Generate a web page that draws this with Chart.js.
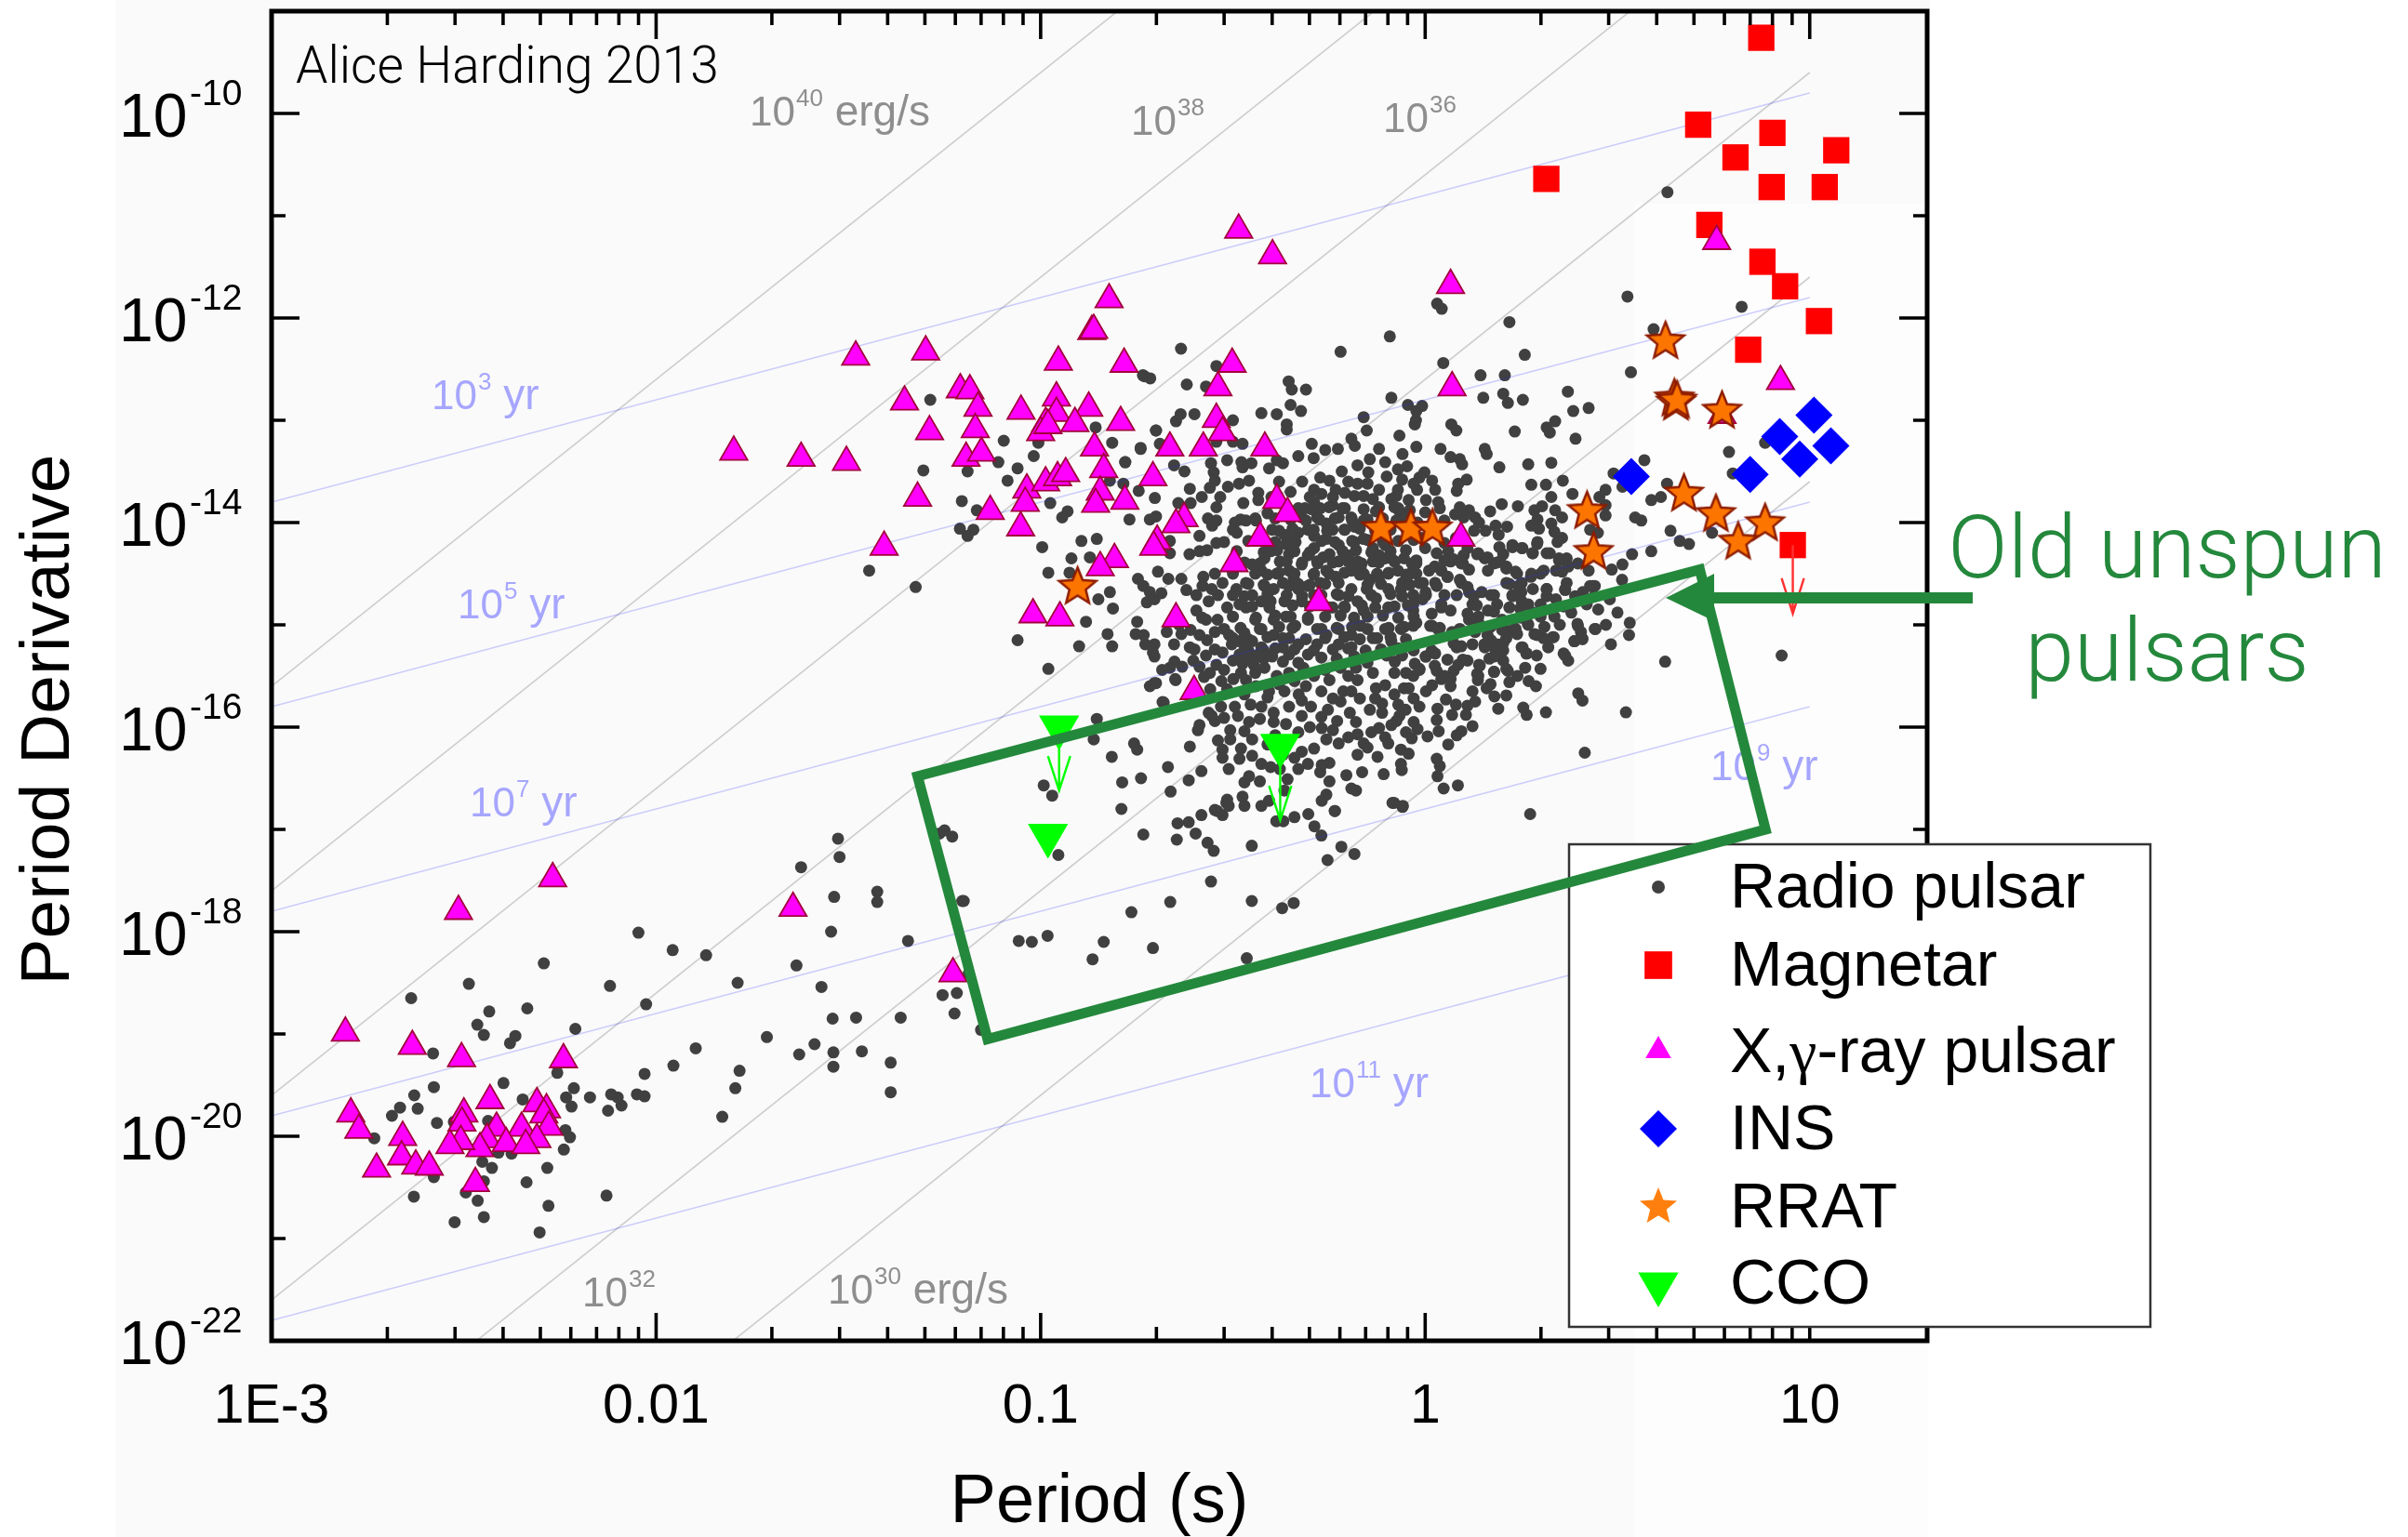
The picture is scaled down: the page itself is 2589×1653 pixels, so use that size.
<!DOCTYPE html>
<html>
<head>
<meta charset="utf-8">
<title>Pulsar P-Pdot</title>
<script src="https://cdn.jsdelivr.net/npm/chart.js@4/dist/chart.umd.js"></script>
<style>
  body { margin: 0; background: #fff; }
  .panel { position: absolute; }
  canvas { position: absolute; left: 0; top: 0; }
</style>
</head>
<body>
<div class="panel" style="left:124px;top:0;width:1951px;height:219px;background:#fafafa"></div>
<div class="panel" style="left:124px;top:219px;width:1633px;height:1434px;background:#fafafa"></div>
<div class="panel" style="left:1757px;top:219px;width:316px;height:1434px;background:#fdfdfd"></div>
<canvas id="chart" width="2589" height="1653"></canvas>
<script>
// all values are log10(P), log10(Pdot)
const radioPulsars = [
  // millisecond pulsars, lower left
  [-2.046,-18.01],[-1.957,-18.18],[-1.87,-18.23],[-2.292,-18.31],[-2.487,-18.51],[-2.12,-18.53],[-2.026,-18.71],[-1.788,-18.5],
  [-2.637,-18.65],[-2.434,-18.78],[-2.335,-18.75],[-2.465,-18.91],[-2.448,-19.01],[-2.366,-19.02],[-2.38,-19.09],[-2.21,-18.95],
  [-2.58,-19.19],[-2.578,-19.52],[-2.629,-19.6],[-2.397,-19.48],[-2.257,-19.38],[-2.214,-19.53],[-2.234,-19.62],[-2.172,-19.62],
  [-2.117,-19.59],[-2.1,-19.62],[-2.05,-19.59],[-2.03,-19.61],[-2.09,-19.7],[-2.125,-19.75],[-2.22,-19.71],[-2.347,-19.64],
  [-2.666,-19.72],[-2.687,-19.8],[-2.62,-19.73],[-2.57,-19.87],[-2.733,-20.02],[-2.236,-19.94],[-2.224,-20.01],[-2.24,-20.13],
  [-2.41,-20.16],[-2.376,-20.17],[-2.452,-20.25],[-2.427,-20.31],[-2.283,-20.31],[-2.337,-20.45],[-2.578,-20.4],[-2.448,-20.44],
  [-2.495,-20.55],[-2.464,-20.63],[-2.63,-20.59],[-2.28,-20.68],[-2.129,-20.58],[-2.448,-20.79],[-2.524,-20.84],[-2.303,-20.94],
  [-2.526,-19.86],[-2.437,-19.85],[-1.955,-19.31],[-2.03,-19.39],[-1.897,-19.14],[-1.783,-19.36],[-1.794,-19.53],[-1.828,-19.81],
  [-1.712,-19.03],[-1.635,-18.33],[-1.57,-18.54],[-1.545,-18.0],[-1.537,-17.66],[-1.425,-17.61],[-1.425,-17.71],[-1.345,-18.09],
  [-1.541,-18.85],[-1.48,-18.84],[-1.364,-18.84],[-1.588,-19.1],[-1.628,-19.2],[-1.539,-19.18],[-1.465,-19.17],[-1.539,-19.32],
  [-1.39,-19.28],[-1.39,-19.57],[-1.255,-18.62],[-1.218,-18.6],[-1.224,-18.8],[-1.2,-17.7],[-1.187,-18.41],[-1.527,-17.09],
  [-1.523,-17.27],[-1.623,-17.37],[-1.263,-17.04],[-1.23,-17.07],[-1.25,-17.01],
  // sparse lower band
  [-1.057,-18.09],[-1.023,-18.1],[-0.982,-18.04],[-0.836,-18.1],[-0.865,-18.27],[-0.708,-18.16],[-0.764,-17.81],[-0.663,-17.71],
  [-0.557,-17.51],[-0.451,-17.7],[-0.372,-17.77],[-0.342,-17.72],[-0.464,-18.26],[-1.204,-17.7],[-1.155,-18.96],[-0.954,-17.25],
  [-0.733,-17.05],[-0.644,-16.94],[-0.615,-16.93],[-0.646,-17.1],[-0.597,-17.04],[-0.582,-16.86],[-0.566,-17.13],[-0.55,-17.21],
  [-0.541,-16.82],[-0.517,-16.74],[-0.451,-17.16],[-0.218,-17.17],[-0.184,-17.24],[-0.254,-17.3],[-0.27,-17.06],[-0.288,-16.97],
  [-0.235,-16.82],[-0.304,-16.85],[-0.34,-16.88],[-0.369,-16.92],[-0.387,-16.92],[0.273,-16.85],[0.415,-16.25],[0.522,-15.855],
  [0.314,-15.855],[-0.081,-16.74],[-0.058,-16.77],[0.085,-16.57],[0.048,-16.6],[-0.683,-15.755],[-0.7,-15.57],[-0.649,-15.54],
  [-0.854,-15.92],[-0.862,-16.12],[-0.757,-16.16],[-0.749,-16.22],[-0.815,-16.29],[-0.612,-16.19],[-0.669,-16.39],[-0.582,-16.43],
  [-0.615,-16.52],[-0.662,-16.63],[-0.739,-16.5],[-0.788,-16.54],[-0.992,-16.57],[-0.97,-16.67],[-0.79,-16.8],
  // left of the main cloud
  [-1.287,-12.8],[-1.096,-13.2],[-1.018,-13.35],[-1.11,-13.41],[-1.06,-13.47],[-1.305,-13.49],[-1.19,-13.5],[-1.086,-13.59],
  [-1.205,-13.79],[-1.166,-13.88],[-1.21,-14.06],[-1.175,-14.07],[-1.19,-14.13],[-0.975,-13.81],[-0.93,-13.89],[-0.944,-13.95],
  [-0.857,-13.07],[-1.006,-13.22],[-0.814,-13.22],[-0.82,-13.59],[-1.446,-14.47],[-1.325,-14.63],[-0.996,-14.24],[-0.894,-14.18],
  [-0.854,-14.16],[-0.92,-14.35],[-0.872,-14.34],[-0.98,-14.49],[-0.925,-14.49],[-0.882,-14.97],[-0.85,-14.75],[-0.82,-14.68],
  [-1.06,-15.15],[-0.9,-15.21],[-0.826,-15.09],[-0.814,-15.21],[-0.98,-15.43],[-0.812,-14.84],[-0.78,-13.41],[-0.74,-13.27],[-0.7,-13.1],
  // top left of the main cloud
  [-0.73,-12.57],[-0.715,-12.59],[-0.62,-12.65],[-0.57,-12.67],[-0.636,-12.94],[-0.648,-13.01],[-0.6,-12.94],[-0.5,-13.0],[-0.7,-13.1],
  [-0.69,-13.23],[-0.74,-13.28],[-0.78,-13.41],[-0.426,-12.93],[-0.386,-12.94],[-0.35,-12.85],[-0.323,-12.91],[-0.36,-13.04],[-0.36,-13.09],
  [-0.355,-12.62],[-0.347,-12.7],[-0.31,-12.7],[-0.088,-12.78],[-0.16,-12.97],[-0.152,-13.1],[-0.192,-13.18],[-0.183,-13.25],[-0.295,-13.23],
  [-0.33,-13.35],[-0.29,-13.37],[-0.26,-13.29],[-0.227,-13.28],[-0.12,-13.28],[-0.543,-13.21],[-0.5,-13.21],[-0.475,-13.23],[-0.557,-13.42],
  [-0.515,-13.39],[-0.478,-13.41],[-0.452,-13.42],[-0.475,-13.46],[-0.406,-13.47],[-0.386,-13.39],[-0.37,-13.42],[-0.653,-13.44],[-0.626,-13.5],
  [-0.55,-13.51],[-0.547,-13.59],[-0.56,-13.66],[-0.513,-13.65],[-0.484,-13.62],[-0.458,-13.59],[-0.612,-13.67],[-0.581,-13.75],[-0.533,-13.75],
  [-0.543,-13.85],[-0.473,-13.81],[-0.434,-13.71],[-0.434,-13.78],[-0.703,-13.76],[-0.745,-13.69],[-0.785,-13.62],[-0.769,-13.97],[-0.716,-13.97],
  [-0.7,-13.94],[-0.642,-13.81],[-0.61,-13.81],[-0.565,-13.96],[-0.543,-13.98],[-0.554,-14.03],[-0.495,-14.0],[-0.466,-13.98],[-0.442,-13.96],
  [-0.41,-13.91],[-0.49,-14.1],[-0.587,-14.13],[-0.398,-14.07],[-0.366,-14.12],[-0.362,-14.21],[-0.664,-14.18],[-0.664,-14.3],[-0.613,-14.31],
  [-0.587,-14.28],[-0.567,-14.27],[-0.543,-14.2],[-0.523,-14.19],[-0.695,-14.48],[-0.668,-14.55],[-0.634,-14.55],[-0.747,-14.55],[-0.733,-14.62],
  [-0.716,-14.68],[-0.686,-14.69],[-0.704,-14.75],[-0.724,-14.78],[-0.621,-14.66],[-0.577,-14.53],[-0.595,-14.71],
  // main cloud, upper half
  [-0.547,-14.5],[-0.579,-14.62],[-0.555,-14.65],[-0.527,-14.59],[-0.563,-14.77],[-0.539,-14.71],[-0.515,-14.83],[-0.595,-14.86],[-0.491,-14.65],
  [-0.466,-14.59],[-0.45,-14.41],[-0.442,-14.5],[-0.418,-14.35],[-0.426,-14.47],[-0.402,-14.28],[-0.378,-14.38],[-0.386,-14.5],[-0.354,-14.47],
  [-0.418,-14.62],[-0.394,-14.65],[-0.45,-14.71],[-0.426,-14.77],[-0.466,-14.83],[-0.366,-14.77],[-0.33,-14.65],[-0.342,-14.54],[-0.321,-14.41],
  [-0.305,-14.32],[-0.281,-14.38],[-0.289,-14.5],[-0.257,-14.47],[-0.233,-14.53],[-0.249,-14.31],[-0.225,-14.22],[-0.257,-14.16],[-0.289,-14.13],
  [-0.321,-13.95],[-0.313,-13.86],[-0.289,-13.8],[-0.289,-13.68],[-0.273,-13.56],[-0.249,-13.59],[-0.233,-13.68],[-0.209,-13.86],[-0.241,-13.83],
  [-0.281,-13.95],[-0.305,-14.07],[-0.33,-14.1],[-0.225,-14.38],[-0.2,-14.32],[-0.176,-14.38],[-0.192,-14.47],[-0.16,-14.5],[-0.136,-14.38],
  [-0.12,-14.32],[-0.104,-14.35],[-0.192,-14.65],[-0.225,-14.71],[-0.209,-14.83],[-0.176,-14.77],[-0.152,-14.65],[-0.12,-14.53],[-0.096,-14.65],
  [-0.128,-14.74],[-0.096,-14.83],[-0.241,-14.83],[-0.16,-14.86],[-0.273,-14.59],[-0.176,-13.62],[-0.16,-13.74],[-0.12,-13.68],[-0.136,-13.77],
  [-0.088,-13.77],[-0.209,-13.71],[-0.184,-13.74],[-0.184,-14.04],[-0.209,-14.07],[-0.241,-14.07],[-0.176,-13.44],[-0.144,-13.38],[-0.104,-13.41],
  [-0.148,-13.51],[-0.217,-13.5],[-0.128,-13.89],[-0.184,-14.19],[-0.273,-13.86],[-0.257,-14.01],[-0.225,-13.95],[-0.192,-13.95],[-0.16,-13.98],
  [-0.104,-14.22],[-0.136,-14.25],[-0.16,-14.16],[-0.354,-14.31],[-0.337,-14.19],[-0.289,-14.25],[-0.265,-14.34],[-0.305,-14.62],[-0.289,-14.71],
  [-0.321,-14.77],[-0.354,-14.62],[-0.402,-14.77],[-0.483,-14.8],[-0.096,-14.5],[-0.088,-14.35],[-0.144,-14.56],[-0.168,-14.44],
  // main cloud, right of one second
  [0.144,-12.56],[0.207,-12.56],[0.151,-12.78],[0.203,-12.74],[0.215,-12.83],[0.254,-12.8],[0.371,-12.72],[0.385,-12.91],[0.425,-12.88],
  [-0.045,-12.85],[-0.008,-12.86],[-0.023,-12.91],[-0.024,-13.0],[-0.027,-13.04],[0.068,-13.04],[0.081,-13.1],[0.233,-13.11],[0.316,-13.07],
  [0.338,-13.01],[0.324,-13.12],[0.391,-13.18],[-0.067,-13.15],[-0.023,-13.26],[0.04,-13.28],[-0.059,-13.33],[0.066,-13.36],[0.09,-13.38],
  [0.096,-13.43],[0.155,-13.28],[0.16,-13.33],[0.193,-13.46],[0.268,-13.43],[0.328,-13.415],[0.57,-13.39],[0.49,-13.52],[-0.047,-13.45],
  [-0.071,-13.48],[-0.002,-13.51],[-0.015,-13.56],[0.018,-13.59],[0.026,-13.68],[-0.021,-13.68],[-0.071,-13.68],[-0.075,-13.74],[-0.043,-13.78],
  [0.002,-13.78],[0.034,-13.8],[0.108,-13.58],[0.086,-13.62],[0.082,-13.69],[0.276,-13.63],[0.314,-13.63],[0.358,-13.59],[0.383,-13.72],
  [0.328,-13.75],[0.469,-13.68],[0.453,-13.75],[0.513,-13.65],[0.588,-13.78],[0.613,-13.75],[0.629,-13.62],[0.199,-13.82],[0.241,-13.84],
  [0.169,-13.89],[0.09,-13.85],[0.114,-13.88],[0.078,-13.92],[0.038,-13.86],[0.05,-13.98],[-0.067,-13.89],[-0.075,-13.98],[0.304,-13.84],
  [0.284,-13.88],[0.292,-13.97],[0.338,-13.88],[0.276,-14.03],[0.296,-14.06],[0.356,-13.95],[0.328,-14.01],[0.336,-14.09],[0.356,-14.15],
  [0.344,-14.19],[0.469,-13.83],[0.469,-13.93],[0.449,-14.1],[0.429,-14.07],[0.546,-13.95],[0.562,-13.98],[0.638,-14.08],[0.127,-14.08],
  [0.157,-14.08],[0.183,-14.03],[0.213,-14.04],[0.191,-14.12],[0.193,-14.24],[0.227,-14.22],[0.253,-14.25],[0.292,-14.19],[0.28,-14.3],
  [0.316,-14.3],[0.348,-14.35],[0.368,-14.35],[0.397,-14.4],[0.425,-14.47],[0.485,-14.46],[0.513,-14.41],[0.538,-14.31],[0.588,-14.28],
  [0.512,-14.56],[0.441,-14.62],[0.429,-14.62],[0.135,-14.31],[0.155,-14.35],[0.179,-14.4],[0.195,-14.38],[0.163,-14.47],[0.211,-14.45],
  [0.239,-14.5],[0.211,-14.59],[0.243,-14.62],[0.276,-14.5],[0.308,-14.47],[0.34,-14.47],[0.368,-14.59],[0.364,-14.66],[0.316,-14.65],
  [0.316,-14.72],[0.066,-14.38],[0.098,-14.4],[0.042,-14.47],[0.01,-14.47],[-0.023,-14.4],[-0.055,-14.35],[-0.079,-14.38],[-0.071,-14.47],
  [-0.039,-14.5],[-0.006,-14.59],[0.026,-14.59],[0.058,-14.53],[0.094,-14.59],[0.114,-14.68],[0.002,-14.71],[-0.031,-14.71],[-0.063,-14.65],
  [0.05,-14.71],[0.082,-14.71],[0.147,-14.68],[0.179,-14.71],[0.227,-14.71],[0.268,-14.8],[0.123,-14.8],[0.042,-14.83],[-0.031,-14.86],[0.163,-14.86],
  // main cloud, below the green line, right side
  [0.268,-15.0],[0.397,-15.01],[0.405,-15.07],[0.443,-15.04],[0.532,-14.98],[0.284,-15.09],[0.308,-15.13],[0.334,-15.12],[0.388,-15.16],[0.409,-15.14],
  [0.483,-15.19],[0.253,-15.22],[0.264,-15.28],[0.36,-15.28],[0.372,-15.35],[0.624,-15.36],[0.239,-15.09],[0.219,-15.06],[0.203,-15.18],[0.179,-15.22],
  [0.167,-15.33],[0.203,-15.35],[0.215,-15.45],[0.219,-15.56],[0.179,-15.46],[0.269,-15.55],[0.288,-15.6],[0.211,-15.69],[0.398,-15.67],[0.409,-15.74],
  [0.255,-15.81],[0.264,-15.88],[0.14,-15.39],[0.135,-15.48],[0.137,-15.54],[0.123,-15.65],[0.13,-15.75],[0.11,-15.79],[0.106,-15.88],[0.123,-15.99],
  [0.094,-16.04],[0.082,-16.08],[0.06,-16.17],[0.035,-16.04],[0.006,-16.09],[-0.035,-16.11],[-0.063,-16.22],[-0.043,-16.26],[0.03,-16.31],[0.038,-16.38],
  [0.032,-16.48],[-0.063,-16.36],[-0.061,-16.42],[-0.059,-16.78],[-0.051,-15.83],[-0.015,-15.8],[0.032,-15.82],[0.054,-15.73],[-0.075,-15.94],[-0.067,-15.89],
  [-0.055,-15.62],[-0.043,-15.62],[-0.031,-15.5],[0.002,-15.65],[0.018,-15.59],[0.03,-15.45],[0.066,-15.6],[0.042,-15.53],[0.066,-15.53],[-0.027,-15.38],
  [-0.015,-15.44],[0.002,-15.31],[0.026,-15.28],[0.086,-15.39],[0.074,-15.45],[0.11,-15.35],[-0.063,-15.04],[-0.031,-15.01],[-0.079,-15.36],[0.018,-15.01],
  [0.038,-15.03],[0.114,-14.95],[0.139,-14.98],[0.094,-15.21],[0.074,-15.18],[0.123,-15.19],[0.155,-15.22],[0.171,-15.15],[0.187,-15.27],
  // main cloud, below the green line, left side
  [-0.749,-14.97],[-0.753,-15.09],[-0.732,-15.1],[-0.728,-15.19],[-0.704,-15.19],[-0.708,-15.27],[-0.704,-15.31],[-0.672,-15.07],[-0.634,-15.09],[-0.653,-15.19],
  [-0.612,-15.22],[-0.6,-15.24],[-0.652,-15.36],[-0.684,-15.44],[-0.664,-15.42],[-0.632,-15.41],[-0.603,-15.35],[-0.587,-15.41],[-0.575,-15.51],[-0.704,-15.57],
  [-0.716,-15.6],[-0.65,-15.53],[-0.559,-15.63],[-0.68,-15.76],[-0.587,-15.1],[-0.567,-15.15],[-0.547,-15.07],[-0.523,-15.04],[-0.503,-15.19],[-0.483,-15.16],
  [-0.547,-15.24],[-0.527,-15.27],[-0.543,-15.39],[-0.523,-15.44],[-0.483,-15.29],[-0.475,-15.38],[-0.479,-15.47],[-0.499,-15.53],[-0.466,-15.54],[-0.446,-15.39],
  [-0.442,-15.47],[-0.418,-15.42],[-0.398,-15.31],[-0.515,-15.63],[-0.531,-15.8],[-0.563,-15.86],[-0.547,-15.94],[-0.555,-15.89],[-0.523,-15.91],[-0.495,-15.8],
  [-0.487,-15.89],[-0.454,-15.78],[-0.458,-15.95],[-0.47,-16.04],[-0.45,-16.12],[-0.587,-15.98],[-0.591,-16.03],[-0.539,-16.13],[-0.527,-16.22],[-0.527,-16.3],
  [-0.507,-16.03],[-0.507,-16.12],[-0.479,-16.21],[-0.483,-16.31],[-0.511,-16.41],[-0.45,-16.28],[-0.426,-16.36],[-0.402,-16.39],[-0.378,-16.41],[-0.33,-16.41],
  [-0.305,-16.36],[-0.321,-16.24],[-0.289,-16.21],[-0.269,-16.01],[-0.257,-16.12],[-0.273,-16.44],[-0.249,-16.35],[-0.225,-16.16],[-0.249,-16.53],[-0.205,-16.47],
  [-0.164,-16.44],[-0.108,-16.46],[-0.394,-15.95],[-0.362,-15.97],[-0.321,-15.89],[-0.329,-15.68],[-0.321,-15.74],[-0.297,-15.8],[-0.354,-15.8],[-0.394,-15.86],
  [-0.426,-15.8],[-0.41,-15.71],[-0.366,-15.65],[-0.406,-15.65],[-0.253,-15.83],[-0.229,-15.94],[-0.196,-15.86],[-0.18,-15.95],[-0.144,-15.83],[-0.112,-15.77],
  [-0.112,-15.86],[-0.088,-15.98],[-0.176,-16.07],[-0.16,-16.16],[-0.176,-16.27],[-0.12,-16.01],[-0.104,-16.1],[-0.096,-16.16],[-0.124,-16.29],[-0.269,-16.37],
  [-0.458,-16.48],[-0.47,-16.54],[-0.43,-16.53],[-0.358,-16.51],[-0.475,-16.68],[-0.47,-16.77],[-0.515,-16.71],[-0.511,-16.77],[-0.547,-16.81],[-0.527,-16.86],
  [-0.426,-16.77],[-0.406,-16.72],[-0.366,-16.62],[-0.257,-16.66],[-0.269,-16.72],[-0.235,-16.82],[-0.192,-16.6],[-0.18,-16.62],[-0.085,-16.74],[-0.442,-14.95],
  [-0.426,-15.04],[-0.394,-14.95],[-0.362,-14.92],[-0.338,-15.01],[-0.354,-15.13],[-0.33,-15.19],[-0.305,-14.95],[-0.281,-15.04],[-0.257,-15.1],[-0.225,-15.04],
  [-0.192,-15.1],[-0.168,-15.01],[-0.136,-15.13],[-0.104,-15.04],[-0.088,-15.16],[-0.192,-15.22],[-0.225,-15.19],[-0.281,-15.19],[-0.305,-15.29],[-0.354,-15.29],
  [-0.37,-15.22],[-0.394,-15.1],[-0.45,-15.16],[-0.426,-15.22],[-0.184,-15.31],[-0.289,-15.5],[-0.249,-15.54],[-0.2,-15.5],[-0.176,-15.54],[-0.213,-15.65],
  [-0.192,-15.65],[-0.136,-15.47],[-0.128,-15.62],[-0.104,-15.59],[-0.317,-15.42],[-0.354,-15.47],[-0.386,-15.5],
  // far right and upper sparse points
  [0.63,-10.77],[0.526,-11.79],[0.823,-11.89],[0.594,-12.11],[0.535,-12.53],[0.79,-13.31],[0.884,-13.22],[0.8,-13.52],[0.662,-14.18],[0.686,-14.21],[0.746,-14.1],
  [0.927,-15.3],[-0.635,-12.3],[-0.22,-12.33],[-0.092,-12.18],[0.219,-12.04],[0.259,-12.36],[0.031,-11.86],[0.043,-11.91],[0.047,-12.44],[-0.543,-12.47],[-0.734,-12.56]
];

// the crowded middle of the cloud, read row by row between the white gaps
const radioCore = [
  [-0.33,-13.86],[-0.295,-13.87],[-0.25,-13.85],[-0.215,-13.86],[-0.16,-13.87],[-0.12,-13.85],[-0.07,-13.86],[-0.04,-13.88],
  [-0.48,-13.97],[-0.44,-13.98],[-0.39,-13.96],[-0.35,-13.97],[-0.31,-13.98],[-0.275,-13.97],[-0.235,-13.96],[-0.19,-13.98],[-0.15,-13.97],[-0.11,-13.96],[-0.055,-13.97],
  [-0.5,-14.07],[-0.38,-14.08],[-0.345,-14.06],[-0.29,-14.07],[-0.255,-14.08],[-0.21,-14.07],[-0.17,-14.06],[-0.13,-14.08],[-0.09,-14.07],[-0.05,-14.06],
  [-0.46,-14.18],[-0.39,-14.19],[-0.35,-14.17],[-0.27,-14.18],[-0.235,-14.19],[-0.19,-14.18],[-0.15,-14.17],[-0.11,-14.19],[-0.07,-14.18],[-0.03,-14.17],
  [-0.49,-14.28],[-0.42,-14.29],[-0.385,-14.27],[-0.34,-14.28],[-0.3,-14.29],[-0.215,-14.28],[-0.18,-14.27],[-0.14,-14.29],[-0.09,-14.28],[-0.05,-14.27],
  [-0.47,-14.39],[-0.43,-14.4],[-0.36,-14.38],[-0.32,-14.39],[-0.28,-14.4],[-0.24,-14.39],[-0.2,-14.38],[-0.165,-14.4],[-0.12,-14.39],[-0.08,-14.38],[-0.035,-14.4],
  [-0.5,-14.5],[-0.41,-14.51],[-0.38,-14.49],[-0.34,-14.5],[-0.29,-14.51],[-0.25,-14.5],[-0.21,-14.49],[-0.17,-14.51],[-0.125,-14.5],[-0.095,-14.49],[-0.05,-14.51],
  [-0.46,-14.6],[-0.42,-14.61],[-0.37,-14.59],[-0.33,-14.6],[-0.3,-14.61],[-0.26,-14.6],[-0.225,-14.59],[-0.15,-14.61],[-0.115,-14.6],[-0.06,-14.59],[-0.04,-14.61],
  [-0.5,-14.71],[-0.47,-14.72],[-0.41,-14.7],[-0.36,-14.71],[-0.32,-14.72],[-0.27,-14.71],[-0.23,-14.7],[-0.2,-14.72],[-0.14,-14.71],[-0.09,-14.7],[-0.06,-14.72],
  [-0.45,-14.82],[-0.405,-14.83],[-0.345,-14.81],[-0.3,-14.82],[-0.25,-14.83],[-0.21,-14.82],[-0.165,-14.81],[-0.13,-14.83],[-0.08,-14.82],[-0.045,-14.81],
  [-0.5,-14.92],[-0.44,-14.93],[-0.39,-14.91],[-0.35,-14.92],[-0.305,-14.93],[-0.26,-14.92],[-0.22,-14.91],[-0.185,-14.93],[-0.15,-14.92],[-0.11,-14.91],[-0.07,-14.93],[-0.03,-14.92],
  [-0.48,-15.03],[-0.43,-15.04],[-0.38,-15.02],[-0.345,-15.03],[-0.27,-15.04],[-0.23,-15.03],[-0.19,-15.02],[-0.15,-15.04],[-0.095,-15.03],[-0.055,-15.02],
  [-0.5,-15.13],[-0.46,-15.14],[-0.41,-15.12],[-0.37,-15.13],[-0.31,-15.14],[-0.26,-15.13],[-0.21,-15.12],[-0.17,-15.14],[-0.125,-15.13],[-0.09,-15.12],[-0.05,-15.14],
  [-0.47,-15.24],[-0.42,-15.25],[-0.39,-15.23],[-0.34,-15.24],[-0.29,-15.25],[-0.24,-15.24],[-0.2,-15.23],[-0.155,-15.25],[-0.115,-15.24],[-0.07,-15.23],[-0.03,-15.25],
  [-0.46,-15.33],[-0.42,-15.33],[-0.37,-15.36],[-0.33,-15.37],[-0.27,-15.32],[-0.23,-15.33],[-0.18,-15.42],[-0.15,-15.37],[-0.1,-15.3],[-0.06,-15.3],[-0.08,-15.47],[-0.05,-15.47],[-0.26,-15.44],[-0.22,-15.42],
  [-0.02,-14.0],[0.02,-14.05],[0.05,-14.2],[0.08,-14.15],[0.11,-14.25],[0.0,-14.25],[0.03,-14.3],[-0.01,-14.15],[0.06,-14.28],[0.1,-14.32],
  [0.138,-14.3],[0.162,-14.34],[0.187,-14.39],[0.211,-14.43],[0.235,-14.48],[0.203,-14.31],[0.227,-14.24],[0.251,-14.25],[0.291,-14.21],[0.279,-14.3],
  [0.324,-14.3],[0.348,-14.37],[0.372,-14.43],[0.356,-14.48],[0.3,-14.5],[0.275,-14.53],[0.251,-14.59],[0.219,-14.6],[0.316,-14.65],[0.364,-14.65],
  [0.171,-14.71],[0.187,-14.8],[0.179,-14.87],[0.227,-14.72],[0.251,-14.77],[0.219,-14.83],[0.247,-14.84],[0.025,-14.43],[0.05,-14.37],[0.074,-14.36],
  [0.094,-14.4],[0.114,-14.46],[0.09,-14.56],[0.058,-14.53],[0.03,-14.62],[0.001,-14.68],[-0.023,-14.37],[-0.023,-14.5],[-0.015,-14.59],[-0.031,-14.8],
  [-0.007,-14.75],[0.042,-14.8],[0.066,-14.86],[0.11,-14.63],[0.126,-14.72],[0.134,-14.81],[0.11,-14.89],[0.138,-14.92],[0.017,-14.89],[0.013,-15.01],
  [0.033,-15.04],[-0.023,-14.98],[0.09,-15.04],[0.07,-15.07],[0.13,-15.07],[0.162,-15.1],[0.154,-15.19],[0.187,-15.19],[0.211,-15.13],[0.235,-15.04],
  [0.203,-15.25],[0.179,-15.31],[0.142,-15.4],[0.138,-15.5],[0.179,-15.46],[0.211,-15.43],[0.082,-15.22],[0.098,-15.34],[0.058,-15.34],[0.017,-15.25],
  [0.001,-15.31],[0.025,-15.4],[-0.015,-15.43],[0.05,-15.5],[0.251,-15.22],[0.263,-15.28],[0.267,-14.99],[0.291,-15.1],[0.332,-15.12],[0.336,-14.92],
  [0.388,-15.16],[0.408,-15.13],[0.396,-14.99],[0.441,-15.04],[0.364,-15.3],[0.436,-14.62],
  // more of the same, outer parts of the cloud
  [-0.58,-14.93],[-0.54,-14.95],[-0.47,-15.08],[-0.57,-15.3],[-0.51,-15.1],[-0.61,-15.05],[-0.64,-15.0],[-0.57,-14.95],[-0.46,-15.25],[-0.44,-15.3],
  [-0.5,-15.35],[-0.56,-15.47],[-0.53,-15.55],[-0.44,-15.6],[-0.47,-15.68],[-0.38,-15.58],[-0.34,-15.55],[-0.43,-15.92],[-0.39,-16.08],[-0.36,-16.15],
  [-0.33,-16.05],[-0.3,-16.0],[-0.41,-16.17],[-0.37,-16.27],[-0.34,-16.3],[-0.27,-15.9],[-0.24,-16.03],[-0.2,-16.1],[-0.14,-16.05],[-0.15,-16.2],
  [-0.22,-15.75],[-0.17,-15.72],[-0.27,-15.65],[-0.24,-15.72],[-0.31,-15.6],[-0.13,-15.72],[-0.08,-15.68],[-0.07,-15.78],[-0.03,-15.72],[-0.03,-15.95],
  [-0.02,-16.02],[0.03,-15.93],[0.07,-15.88],[0.08,-15.78],[-0.05,-16.05],[0.3,-14.8],[0.33,-14.85],[0.36,-14.82],[0.3,-14.92],[0.28,-14.88],
  [0.25,-14.93],[0.2,-14.95],[0.17,-15.02],[0.2,-15.05],[0.23,-14.95],[0.31,-15.02],[0.35,-15.0],[0.38,-14.88],[0.42,-14.8],[0.45,-14.85],
  [0.48,-14.75],[0.5,-14.88],[0.47,-15.0],[0.53,-15.1],[0.32,-15.22],[0.29,-15.3],[0.3,-15.43],[0.26,-15.42],[0.24,-15.5],[0.17,-15.58],
  [0.18,-15.7],[0.16,-15.62],[0.19,-15.82],[0.39,-14.72],[0.41,-14.68],[0.44,-14.72],[0.34,-14.75],[0.28,-14.65],[0.25,-14.68],[0.1,-13.95],
  [0.14,-14.0],[0.0,-13.9],[0.13,-13.95],[-0.4,-13.75],[-0.37,-13.82],[-0.35,-13.7],[-0.32,-13.6],[-0.3,-13.75],[-0.38,-13.6],[-0.27,-13.72],
  [-0.24,-13.75],[-0.2,-13.6],[-0.15,-13.62],[-0.1,-13.55],[-0.06,-13.58],[-0.03,-13.62],[-0.08,-13.85],[-0.05,-13.95]
];

const magnetars = [
  [0.874,-9.26],[0.71,-10.11],[0.903,-10.19],[0.807,-10.43],[1.069,-10.36],[0.901,-10.72],[1.039,-10.72],[0.315,-10.64],
  [0.739,-11.09],[0.877,-11.45],[0.936,-11.69],[1.024,-12.03],[0.84,-12.31],[0.956,-14.22]
];

const xrayPulsars = [
  [-0.822,-11.82],[-0.867,-12.13],[-0.862,-12.12],[-1.481,-12.38],[-1.299,-12.33],[-0.954,-12.43],[-0.783,-12.45],[-0.502,-12.45],[-0.539,-12.68],
  [-1.209,-12.7],[-1.184,-12.71],[-1.163,-12.88],[-1.354,-12.82],[-1.051,-12.91],[-0.959,-12.78],[-0.875,-12.88],[-0.959,-12.93],[-0.987,-13.03],
  [-1.0,-13.12],[-0.981,-13.05],[-0.911,-13.03],[-0.792,-13.02],[-1.17,-13.09],[-1.289,-13.11],[-0.543,-12.99],[-0.527,-13.12],[-0.86,-13.27],
  [-0.664,-13.27],[-0.577,-13.27],[-0.417,-13.27],[-1.505,-13.41],[-1.194,-13.37],[-1.154,-13.32],[-0.836,-13.48],[-0.708,-13.56],[-1.036,-13.68],
  [-0.987,-13.61],[-0.956,-13.56],[-0.935,-13.52],[-0.845,-13.7],[-0.857,-13.82],[-1.04,-13.81],[-0.781,-13.79],[-1.32,-13.76],[-1.131,-13.89],
  [-1.052,-14.05],[-1.407,-14.24],[-0.386,-13.78],[-0.358,-13.91],[-0.627,-13.96],[-0.648,-14.02],[-0.697,-14.18],[-0.706,-14.24],[-0.429,-14.15],
  [0.093,-14.15],[-0.497,-14.4],[-0.808,-14.36],[-0.845,-14.44],[-1.02,-14.9],[-0.95,-14.93],[-0.648,-14.94],[-0.277,-14.78],[-0.601,-15.65],
  [0.07,-12.68],[0.066,-11.68],[-1.798,-13.31],[-1.623,-13.37],[-0.485,-11.14],[-0.397,-11.39],[0.758,-11.25],[0.924,-12.62],[0.772,-12.95],
  [-2.514,-17.8],[-2.808,-18.99],[-2.634,-19.12],[-2.506,-19.24],[-2.241,-19.25],[-1.644,-17.77],[-1.228,-18.41],[-2.794,-19.78],[-2.773,-19.94],
  [-2.659,-20.01],[-2.662,-20.2],[-2.727,-20.32],[-2.625,-20.29],[-2.59,-20.3],[-2.432,-19.65],[-2.5,-19.78],[-2.505,-19.87],[-2.31,-19.68],
  [-2.285,-19.74],[-2.292,-19.79],[-2.279,-19.91],[-2.35,-19.92],[-2.415,-19.92],[-2.44,-20.03],[-2.31,-20.03],[-2.39,-20.07],[-2.339,-20.09],
  [-2.458,-20.12],[-2.508,-20.05],[-2.536,-20.09],[-2.47,-20.46],[-2.269,-17.48]
];

const insPulsars = [[1.011,-12.95],[0.922,-13.16],[1.055,-13.25],[0.974,-13.38],[0.845,-13.53],[0.536,-13.55]];

const rratPulsars = [
  [0.625,-12.23],[0.648,-12.79],[0.652,-12.83],[0.655,-12.81],[0.772,-12.91],[0.673,-13.72],[0.756,-13.92],[0.884,-14.01],
  [0.814,-14.19],[0.421,-13.89],[0.438,-14.29],[-0.115,-14.06],[-0.037,-14.06],[0.019,-14.06],[-0.904,-14.63]
];

const ccoPulsars = [[-0.952,-16.0],[-0.377,-16.18],[-0.981,-17.06]];

// upper limits: [log P, log Pdot of marker, log Pdot of arrow tip]
const ccoLimits = [[-0.952,-16.0,-16.62],[-0.377,-16.18,-16.91]];
const magnetarLimits = [[0.956,-14.22,-14.89]];

const ageLines = [
  [[-3,-13.8],[1,-9.8]],
  [[-3,-15.8],[1,-11.8]],
  [[-3,-17.8],[1,-13.8]],
  [[-3,-19.8],[1,-15.8]],
  [[-3,-21.8],[1,-17.8]]
];
const edotLines = [
  [[-1.8,-22],[1,-13.6]],
  [[-2.467,-22],[1,-11.6]],
  [[-3,-21.6],[1,-9.6]],
  [[-3,-19.6],[0.533,-9]],
  [[-3,-17.6],[-0.133,-9]],
  [[-3,-15.6],[-0.8,-9]]
];

const unspunBox = [[-1.138,-19.05],[-1.32,-16.48],[0.714,-14.46],[0.885,-17.0]];

const xTickValues = [1e-3, 1e-2, 1e-1, 1, 10];
const xTickLabels = ["1E-3", "0.01", "0.1", "1", "10"];
const xMinorMultiples = [2, 3, 4, 5, 6, 7, 8, 9];
const yMajorExponents = [-22, -20, -18, -16, -14, -12, -10];
const yMinorExponents = [-21, -19, -17, -15, -13, -11];

const legendNames = ["Radio pulsar", "Magnetar", "X,γ-ray pulsar", "INS", "RRAT", "CCO"];

const SANS = '"Liberation Sans", Arial, sans-serif';
const LIGHT = 'Roboto, "Liberation Sans", sans-serif';
const GREEN = "#24883c";

function toPoints(rows) {
    return rows.map(r => ({ x: Math.pow(10, r[0]), y: Math.pow(10, r[1]) }));
}

// filled five point star, Chart.js has no such pointStyle
function makeStar(outer, fill, stroke, lineWidth) {
    const size = Math.ceil(2 * outer + 2 * lineWidth + 2);
    const c = document.createElement("canvas");
    c.width = size;
    c.height = size;
    const g = c.getContext("2d");
    g.translate(size / 2, size / 2);
    g.beginPath();
    for (let i = 0; i < 10; i++) {
        const r = i % 2 ? outer * 0.44 : outer;
        const a = -Math.PI / 2 + i * Math.PI / 5;
        g.lineTo(r * Math.cos(a), r * Math.sin(a));
    }
    g.closePath();
    g.fillStyle = fill;
    g.fill();
    if (lineWidth) {
        g.strokeStyle = stroke;
        g.lineWidth = lineWidth;
        g.stroke();
    }
    return c;
}

const starMarker = makeStar(21, "#fb7500", "#8e1c00", 2.5);
const starLegend = makeStar(21, "#ff7f0e", "#ff7f0e", 0);

function lineSet(rows, color, order) {
    return {
        data: toPoints(rows),
        showLine: true,
        borderColor: color,
        borderWidth: 1.6,
        pointRadius: 0,
        order: order
    };
}

function markerSet(label, rows, style, radius, fill, border, borderWidth, order, rotation) {
    return {
        label: label,
        data: toPoints(rows),
        pointStyle: style,
        pointRadius: radius,
        pointBackgroundColor: fill,
        pointBorderColor: border,
        pointBorderWidth: borderWidth,
        pointRotation: rotation || 0,
        showLine: false,
        order: order
    };
}

const datasets = [
    ...edotLines.map(l => lineSet(l, "#cfcfcf", 20)),
    markerSet("Radio pulsar", radioPulsars.concat(radioCore), "circle", 6.5, "#404040", "#404040", 0, 15),
    ...ageLines.map(l => lineSet(l, "rgba(40,40,255,0.22)", 10)),
    markerSet("Magnetar", magnetars, "rect", 20, "#ff0000", "#ff0000", 0, 8),
    markerSet("INS", insPulsars, "rectRot", 20, "#0000ff", "#0000ff", 0, 7),
    markerSet("X,γ-ray pulsar", xrayPulsars, "triangle", 17, "#ff00ff", "#a3003c", 1.8, 6),
    markerSet("CCO", ccoPulsars, "triangle", 25, "#00ff00", "#00ff00", 0, 5, 180),
    markerSet("RRAT", rratPulsars, starMarker, 21, "#fb7500", "#8e1c00", 0, 4)
];

function drawArrow(ctx, x, y0, y1, barb, barbY, color) {
    ctx.strokeStyle = color;
    ctx.lineWidth = 2.4;
    ctx.beginPath();
    ctx.moveTo(x, y0);
    ctx.lineTo(x, y1);
    ctx.moveTo(x - barb, barbY);
    ctx.lineTo(x, y1);
    ctx.lineTo(x + barb, barbY);
    ctx.stroke();
}

function drawPower(ctx, x, y, base, exponent, tail, color, size) {
    ctx.fillStyle = color;
    ctx.textAlign = "left";
    ctx.textBaseline = "alphabetic";
    ctx.font = size + "px " + SANS;
    ctx.fillText(base, x, y);
    const w = ctx.measureText(base).width;
    const small = Math.round(size * 0.6);
    ctx.font = small + "px " + SANS;
    ctx.fillText(exponent, x + w + 1, y - size * 0.47);
    if (tail) {
        const w2 = ctx.measureText(exponent).width;
        ctx.font = (size + 2) + "px " + SANS;
        ctx.fillText(tail, x + w + w2 + 1, y);
    }
}

const frame = {
    id: "frame",
    afterDatasetsDraw(chart) {
        const ctx = chart.ctx;
        const xs = chart.scales.x;
        const ys = chart.scales.y;
        const a = chart.chartArea;
        ctx.save();

        // upper limit arrows
        ccoLimits.forEach(r => {
            const x = xs.getPixelForValue(Math.pow(10, r[0]));
            const y0 = ys.getPixelForValue(Math.pow(10, r[1]));
            const y1 = ys.getPixelForValue(Math.pow(10, r[2]));
            drawArrow(ctx, x, y0, y1, 12, y1 - 37, "#00ff00");
        });
        magnetarLimits.forEach(r => {
            const x = xs.getPixelForValue(Math.pow(10, r[0]));
            const y0 = ys.getPixelForValue(Math.pow(10, r[1]));
            const y1 = ys.getPixelForValue(Math.pow(10, r[2]));
            drawArrow(ctx, x, y0, y1, 12, y1 - 38, "#ff3030");
        });

        // inward ticks on all four sides
        ctx.strokeStyle = "#000";
        ctx.lineWidth = 3.6;
        ctx.beginPath();
        const xTick = (v, len) => {
            const p = xs.getPixelForValue(v);
            ctx.moveTo(p, a.top);
            ctx.lineTo(p, a.top + len);
            ctx.moveTo(p, a.bottom);
            ctx.lineTo(p, a.bottom - len);
        };
        const yTick = (e, len) => {
            const p = ys.getPixelForValue(Math.pow(10, e));
            ctx.moveTo(a.left, p);
            ctx.lineTo(a.left + len, p);
            ctx.moveTo(a.right, p);
            ctx.lineTo(a.right - len, p);
        };
        xTickValues.forEach(v => {
            xTick(v, 30);
            if (v < 10) xMinorMultiples.forEach(m => xTick(v * m, 15));
        });
        yMajorExponents.forEach(e => yTick(e, 30));
        yMinorExponents.forEach(e => yTick(e, 15));
        ctx.stroke();

        // spines
        ctx.lineWidth = 5;
        ctx.lineJoin = "miter";
        ctx.strokeRect(a.left, a.top, a.right - a.left, a.bottom - a.top);

        // y tick labels, superscripts can't be done with the normal ticks
        yMajorExponents.forEach(e => {
            const p = ys.getPixelForValue(Math.pow(10, e));
            ctx.fillStyle = "#000";
            ctx.textAlign = "left";
            ctx.textBaseline = "alphabetic";
            ctx.font = "66px " + SANS;
            ctx.fillText("10", 128, p + 25);
            ctx.font = "39px " + SANS;
            ctx.fillText(String(e), 204, p - 9);
        });
        ctx.restore();
    },
    afterDraw(chart) {
        const ctx = chart.ctx;
        const xs = chart.scales.x;
        const ys = chart.scales.y;
        ctx.save();

        // axis titles
        ctx.fillStyle = "#000";
        ctx.textBaseline = "alphabetic";
        ctx.textAlign = "center";
        ctx.font = "74px " + SANS;
        ctx.fillText("Period (s)", 1182, 1637);
        ctx.save();
        ctx.translate(74, 774);
        ctx.rotate(-Math.PI / 2);
        ctx.font = "75px " + SANS;
        ctx.fillText("Period Derivative", 0, 0);
        ctx.restore();

        // line labels
        const grey = "#8e8e8e";
        const blue = "#a6a6ff";
        drawPower(ctx, 806, 135, "10", "40", " erg/s", grey, 44);
        drawPower(ctx, 1216, 145, "10", "38", "", grey, 44);
        drawPower(ctx, 1487, 142, "10", "36", "", grey, 44);
        drawPower(ctx, 626, 1405, "10", "32", "", grey, 44);
        drawPower(ctx, 890, 1402, "10", "30", " erg/s", grey, 44);
        drawPower(ctx, 464, 440, "10", "3", " yr", blue, 44);
        drawPower(ctx, 492, 665, "10", "5", " yr", blue, 44);
        drawPower(ctx, 505, 878, "10", "7", " yr", blue, 44);
        drawPower(ctx, 1839, 839, "10", "9", " yr", blue, 44);
        drawPower(ctx, 1408, 1180, "10", "11", " yr", blue, 44);

        ctx.fillStyle = "#000";
        ctx.textAlign = "left";
        ctx.font = "300 55px " + LIGHT;
        ctx.fillText("Alice Harding 2013", 318, 89);

        // legend box
        ctx.fillStyle = "#fff";
        ctx.fillRect(1687, 908, 625, 519);
        ctx.strokeStyle = "#333";
        ctx.lineWidth = 2.5;
        ctx.strokeRect(1687, 908, 625, 519);
        const rows = [976, 1060, 1153, 1236, 1320, 1402];
        const draw = (color, style, radius, y, rotation) => {
            ctx.fillStyle = color;
            ctx.strokeStyle = color;
            ctx.lineWidth = 0;
            Chart.helpers.drawPoint(ctx, { pointStyle: style, radius: radius, rotation: rotation || 0, borderWidth: 0 }, 1783, y);
        };
        draw("#404040", "circle", 7, 954);
        draw("#ff0000", "rect", 21, 1038);
        draw("#ff00ff", "triangle", 16, 1130);
        draw("#0000ff", "rectRot", 20, 1214);
        draw("#ff7f0e", starLegend, 21, 1298);
        draw("#00ff00", "triangle", 25, 1381, 180);
        ctx.fillStyle = "#000";
        ctx.textAlign = "left";
        ctx.font = "68px " + SANS;
        legendNames.forEach((name, i) => {
            if (name.indexOf("γ") < 0) {
                ctx.fillText(name, 1860, rows[i]);
                return;
            }
            const parts = name.split("γ");
            ctx.fillText(parts[0], 1860, rows[i]);
            let x = 1860 + ctx.measureText(parts[0]).width;
            ctx.font = "66px 'Liberation Serif', serif";
            ctx.fillText("γ", x, rows[i]);
            x += ctx.measureText("γ").width;
            ctx.font = "68px " + SANS;
            ctx.fillText(parts[1], x, rows[i]);
        });

        // green box and arrow for the old unspun pulsars
        ctx.strokeStyle = GREEN;
        ctx.lineWidth = 11;
        ctx.lineJoin = "miter";
        ctx.beginPath();
        unspunBox.forEach((r, i) => {
            const x = xs.getPixelForValue(Math.pow(10, r[0]));
            const y = ys.getPixelForValue(Math.pow(10, r[1]));
            if (i === 0) ctx.moveTo(x, y);
            else ctx.lineTo(x, y);
        });
        ctx.closePath();
        ctx.stroke();

        ctx.lineWidth = 12;
        ctx.beginPath();
        ctx.moveTo(2121, 643);
        ctx.lineTo(1830, 643);
        ctx.stroke();
        ctx.fillStyle = GREEN;
        ctx.beginPath();
        ctx.moveTo(1791, 643);
        ctx.lineTo(1843, 617);
        ctx.lineTo(1843, 668);
        ctx.closePath();
        ctx.fill();

        ctx.fillStyle = GREEN;
        ctx.textAlign = "center";
        ctx.font = "300 95px " + LIGHT;
        ctx.fillText("Old unspun", 2330, 621);
        ctx.fillText("pulsars", 2330, 732);
        ctx.restore();
    }
};

new Chart(document.getElementById("chart"), {
    type: "scatter",
    data: { datasets: datasets },
    plugins: [frame],
    options: {
        responsive: false,
        animation: false,
        layout: { autoPadding: false, padding: { top: 12, right: 517, left: 0, bottom: 0 } },
        plugins: { legend: { display: false }, tooltip: { enabled: false } },
        scales: {
            x: {
                type: "logarithmic",
                min: 1e-3,
                max: 20.2,
                grid: { display: false },
                border: { display: false },
                afterBuildTicks: scale => {
                    scale.ticks = xTickValues.map(v => ({ value: v, major: true }));
                },
                afterFit: scale => { scale.height = 211; },
                ticks: {
                    autoSkip: false,
                    maxRotation: 0,
                    padding: 28,
                    color: "#000",
                    font: { size: 59, family: SANS },
                    callback: (v, i) => xTickLabels[i]
                }
            },
            y: {
                type: "logarithmic",
                min: 1e-22,
                max: 1e-9,
                grid: { display: false },
                border: { display: false },
                ticks: { display: false },
                afterFit: scale => { scale.width = 292; }
            }
        }
    }
});
</script>
</body>
</html>
